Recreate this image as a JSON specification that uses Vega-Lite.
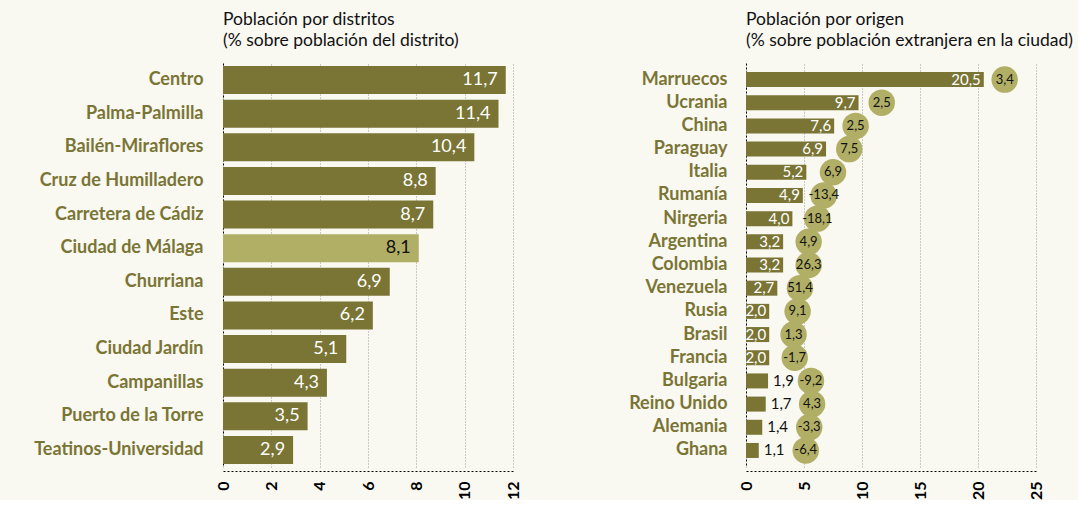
{
  "$schema": "https://vega.github.io/schema/vega-lite/v6.json",
  "background": "#f9f8f1",
  "padding": {"left": 23, "top": 10, "right": 4, "bottom": 0},
  "config": {
    "view": {"stroke": null},
    "font": "Lato",
    "locale": {"number": {"decimal": ",", "thousands": ".", "grouping": [3], "currency": ["", " €"], "minus": "-"}}
  },
  "datasets": {
    "distritos": [
      {"distrito": "Centro", "pct": 11.7},
      {"distrito": "Palma-Palmilla", "pct": 11.4},
      {"distrito": "Bailén-Miraflores", "pct": 10.4},
      {"distrito": "Cruz de Humilladero", "pct": 8.8},
      {"distrito": "Carretera de Cádiz", "pct": 8.7},
      {"distrito": "Ciudad de Málaga", "pct": 8.1},
      {"distrito": "Churriana", "pct": 6.9},
      {"distrito": "Este", "pct": 6.2},
      {"distrito": "Ciudad Jardín", "pct": 5.1},
      {"distrito": "Campanillas", "pct": 4.3},
      {"distrito": "Puerto de la Torre", "pct": 3.5},
      {"distrito": "Teatinos-Universidad", "pct": 2.9}
    ],
    "origen": [
      {"pais": "Marruecos", "pct": 20.5, "variacion": 3.4, "burbuja": 22.3},
      {"pais": "Ucrania", "pct": 9.7, "variacion": 2.5, "burbuja": 11.7},
      {"pais": "China", "pct": 7.6, "variacion": 2.5, "burbuja": 9.45},
      {"pais": "Paraguay", "pct": 6.9, "variacion": 7.5, "burbuja": 8.9},
      {"pais": "Italia", "pct": 5.2, "variacion": 6.9, "burbuja": 7.5},
      {"pais": "Rumanía", "pct": 4.9, "variacion": -13.4, "burbuja": 6.7},
      {"pais": "Nirgeria", "pct": 4.0, "variacion": -18.1, "burbuja": 6.15},
      {"pais": "Argentina", "pct": 3.2, "variacion": 4.9, "burbuja": 5.4},
      {"pais": "Colombia", "pct": 3.2, "variacion": 26.3, "burbuja": 5.4},
      {"pais": "Venezuela", "pct": 2.7, "variacion": 51.4, "burbuja": 4.65},
      {"pais": "Rusia", "pct": 2.0, "variacion": 9.1, "burbuja": 4.45},
      {"pais": "Brasil", "pct": 2.0, "variacion": 1.3, "burbuja": 4.1},
      {"pais": "Francia", "pct": 2.0, "variacion": -1.7, "burbuja": 4.2},
      {"pais": "Bulgaria", "pct": 1.9, "variacion": -9.2, "burbuja": 5.6},
      {"pais": "Reino Unido", "pct": 1.7, "variacion": 4.3, "burbuja": 5.7},
      {"pais": "Alemania", "pct": 1.4, "variacion": -3.3, "burbuja": 5.45},
      {"pais": "Ghana", "pct": 1.1, "variacion": -6.4, "burbuja": 5.15}
    ]
  },
  "hconcat": [
    {
      "width": 290,
      "height": 404,
      "title": {"text": ["Población por distritos", "(% sobre población del distrito)"], "anchor": "start", "frame": "group", "fontSize": 17.5, "fontWeight": "normal", "color": "#111111", "offset": 14, "lineHeight": 21, "font": "Lato"},
      "data": {"name": "distritos"},
      "encoding": {
        "y": {
          "field": "distrito", "type": "nominal", "sort": null,
          "scale": {"paddingInner": 0.165, "paddingOuter": 0.09},
          "axis": {"title": null, "ticks": false, "labelPadding": 20, "labelFontSize": 18, "labelFontWeight": "bold", "labelColor": "#7a7535", "labelFont": "Lato", "labelLimit": 300, "minExtent": 200, "maxExtent": 200, "domainColor": "#000000", "domainDash": [2, 2], "domainWidth": 1}
        }
      },
      "layer": [
        {
          "mark": {"type": "bar"},
          "encoding": {
            "x": {
              "field": "pct", "type": "quantitative", "scale": {"domain": [0, 12], "nice": false, "padding": 0},
              "axis": {"title": null, "values": [0, 2, 4, 6, 8, 10, 12], "grid": true, "gridColor": "#9a9a9a", "gridDash": [1, 2], "ticks": false, "labelAngle": -90, "labelFontSize": 16, "labelFontWeight": "bold", "labelColor": "#000000", "labelPadding": 10, "offset": 4, "domainColor": "#000000", "domainDash": [2, 2]}
            },
            "color": {"condition": {"test": "datum.distrito === 'Ciudad de Málaga'", "value": "#b1ae66"}, "value": "#7a7535"}
          }
        },
        {
          "mark": {"type": "text", "align": "right", "dx": -8, "fontSize": 18, "font": "Lato"},
          "encoding": {
            "x": {"field": "pct", "type": "quantitative"},
            "text": {"field": "pct", "type": "quantitative", "format": ".1f"},
            "color": {"condition": {"test": "datum.distrito === 'Ciudad de Málaga'", "value": "#111111"}, "value": "#ffffff"}
          }
        }
      ]
    },
    {
      "width": 290,
      "height": 404,
      "title": {"text": ["Población por origen", "(% sobre población extranjera en la ciudad)"], "anchor": "start", "frame": "group", "fontSize": 17.5, "fontWeight": "normal", "color": "#111111", "offset": 14, "lineHeight": 21, "font": "Lato"},
      "data": {"name": "origen"},
      "encoding": {
        "y": {
          "field": "pais", "type": "nominal", "sort": null,
          "scale": {"paddingInner": 0.353, "paddingOuter": 0.39},
          "axis": {"title": null, "ticks": false, "labelPadding": 19, "labelFontSize": 18, "labelFontWeight": "bold", "labelColor": "#7a7535", "labelFont": "Lato", "labelLimit": 200, "minExtent": 112, "maxExtent": 112, "domainColor": "#000000", "domainDash": [2, 2], "domainWidth": 1}
        }
      },
      "layer": [
        {
          "mark": {"type": "bar"},
          "encoding": {
            "x": {
              "field": "pct", "type": "quantitative", "scale": {"domain": [0, 25], "nice": false, "padding": 0, "zero": true},
              "axis": {"title": null, "values": [0, 5, 10, 15, 20, 25], "grid": true, "gridColor": "#9a9a9a", "gridDash": [1, 2], "ticks": false, "labelAngle": -90, "labelFontSize": 16, "labelFontWeight": "bold", "labelColor": "#000000", "labelPadding": 10, "offset": 4, "domainColor": "#000000", "domainDash": [2, 2]}
            },
            "color": {"value": "#7a7535"}
          }
        },
        {
          "transform": [{"filter": "datum.pct >= 2"}],
          "mark": {"type": "text", "align": "right", "dx": -3, "fontSize": 15, "font": "Lato", "color": "#ffffff"},
          "encoding": {
            "x": {"field": "pct", "type": "quantitative"},
            "text": {"field": "pct", "type": "quantitative", "format": ".1f"}
          }
        },
        {
          "transform": [{"filter": "datum.pct < 2"}],
          "mark": {"type": "text", "align": "left", "dx": 5, "fontSize": 15, "font": "Lato", "color": "#111111"},
          "encoding": {
            "x": {"field": "pct", "type": "quantitative"},
            "text": {"field": "pct", "type": "quantitative", "format": ".1f"}
          }
        },
        {
          "mark": {"type": "point", "shape": "circle", "filled": true, "size": 700, "opacity": 1, "color": "#b1ae66"},
          "encoding": {
            "x": {"field": "burbuja", "type": "quantitative"}
          }
        },
        {
          "mark": {"type": "text", "align": "center", "fontSize": 13, "font": "Lato", "color": "#111111"},
          "encoding": {
            "x": {"field": "burbuja", "type": "quantitative"},
            "text": {"field": "variacion", "type": "quantitative", "format": ".1f"}
          }
        }
      ]
    }
  ],
  "spacing": 107
}
